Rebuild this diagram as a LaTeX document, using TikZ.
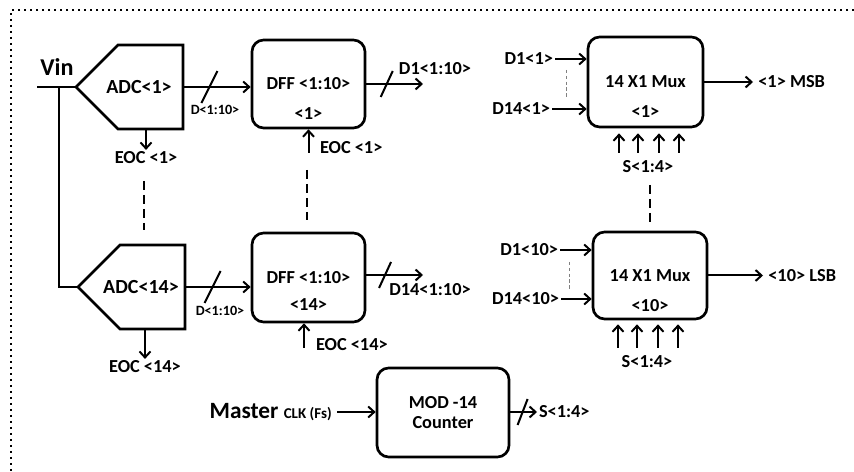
\documentclass[tikz,border=0pt]{standalone}
\usepackage{fontspec}
\setmainfont{Carlito}
\usetikzlibrary{positioning,arrows.meta}

\begin{document}
\begin{tikzpicture}[
        x=0.6pt, y=-0.6pt, >={Straight Barb[length=3.6pt,width=6.6pt]},
        every node/.style={font=\bfseries\fontsize{11}{12.5}\selectfont},
        adc/.style={inner sep=0pt, font=\bfseries\fontsize{12}{14}\selectfont},
        adcline/.style={draw, line width=1.6pt},
        block/.style={draw, line width=1.6pt, rounded corners=7pt, minimum width=67.8pt, minimum height=52.8pt, inner sep=0pt},
        lbl/.style={inner sep=1pt},
        smalllbl/.style={inner sep=1pt, font=\bfseries\fontsize{8.5}{10}\selectfont},
        wire/.style={line width=1.6pt},
        sig/.style={->, line width=1.2pt},
        bus/.style={line width=1.2pt},
        skip/.style={line width=1.6pt, dash pattern=on 5.4pt off 3pt},
        thinskip/.style={gray, line width=0.5pt, dash pattern=on 2pt off 1.5pt},
        frame/.style={line width=1.5pt, dash pattern=on 1.5pt off 2.1pt}
    ]
    \useasboundingbox (0,0) rectangle (854,472);
    \draw[frame] (854,10) -- (11,10) -- (11,472);

    % --- Input and ADC stage ---
    \coordinate (vin) at (37,87);
    \coordinate (split) at (59,87);
    \node[font=\bfseries\fontsize{14.5}{17}\selectfont] (vinlbl) at (57,67) {Vin};
    \node[adc] (adc1) at (139,87) {ADC<1>};
    \node[adc] (adc14) at (141,287) {ADC<14>};
    \foreach \a in {adc1,adc14} {
        \draw[adcline] ([xshift=-63*0.6pt]\a.center) coordinate (\a in)
            -- ([shift={(-21,-42)}]\a.center) -- ([shift={(44,-42)}]\a.center)
            -- ([shift={(44,42)}]\a.center) -- ([shift={(-21,42)}]\a.center) -- cycle;
        \coordinate (\a out) at ([xshift=44*0.6pt]\a.center);
        \coordinate (\a bot) at ([yshift=-42*0.6pt]\a.center);
    }
    \draw[wire] (vin) -- (adc1in);
    \draw[wire] (split) |- (adc14in);

    \node[lbl] (eoca1) at (146,158) {EOC <1>};
    \node[lbl] (eoca14) at (145,367) {EOC <14>};
    \draw[sig] (eoca1.north |- adc1bot) -- (eoca1.north);
    \draw[sig] (eoca14.north |- adc14bot) -- (eoca14.north);
    \draw[skip] (144,181) -- (144,230);

    % --- DFF stage ---
    \node[block] (dff1) at (308.5,84) {DFF <1:10>};
    \node[lbl] (dff1n) at (308.5,114) {<1>};
    \node[block, minimum height=53.4pt] (dff14) at (308.5,277.5) {DFF <1:10>};
    \node[lbl] (dff14n) at (308.5,305) {<14>};

    \draw[sig] (adc1out) -- coordinate[pos=0.39] (b1) (adc1out -| dff1.west);
    \draw[bus] ([shift={(-8,16)}]b1) -- ([shift={(8,-16)}]b1);
    \node[smalllbl] (d1lbl) at (215,110) {D<1:10>};
    \draw[sig] (adc14out) -- coordinate[pos=0.42] (b14) (adc14out -| dff14.west);
    \draw[bus] ([shift={(-8,16)}]b14) -- ([shift={(8,-16)}]b14);
    \node[smalllbl] (d14lbl) at (220,311) {D<1:10>};

    \coordinate (e1) at (308.5,153);
    \coordinate (e14) at (304,348);
    \draw[sig] (e1) -- (dff1.south);
    \draw[sig] (e14) -- (e14 |- dff14.south);
    \node[lbl, anchor=west] (eocd1) at (318,148) {EOC <1>};
    \node[lbl, anchor=west] (eocd14) at (314,345) {EOC <14>};
    \draw[skip] (307,170) -- (307,220);

    \coordinate (q1) at (423,84);
    \coordinate (q14) at (423,275);
    \draw[sig] (dff1.east) -- coordinate[pos=0.36] (c1) (q1);
    \draw[bus] ([shift={(-6,13)}]c1) -- ([shift={(6,-13)}]c1);
    \draw[sig] (dff14.east |- q14) -- coordinate[pos=0.33] (c14) (q14);
    \draw[bus] ([shift={(-6,13)}]c14) -- ([shift={(6,-13)}]c14);
    \node[lbl] (q1lbl) at (435,69) {D1<1:10>};
    \node[lbl] (q14lbl) at (430,290) {D14<1:10>};

    % --- Mux stage ---
    \node[block, minimum width=69pt, minimum height=54pt] (mux1) at (645.5,82) {14 X1 Mux};
    \node[lbl] (mux1n) at (645.5,112) {<1>};
    \node[block, minimum width=68.4pt, minimum height=52.2pt] (mux10) at (650,275.5) {14 X1 Mux};
    \node[lbl] (mux10n) at (650,306) {<10>};

    \node[lbl, anchor=east] (m1a) at (555,59) {D1<1>};
    \node[lbl, anchor=east] (m1b) at (552,109) {D14<1>};
    \draw[sig] (m1a.east) -- (m1a.east -| mux1.west);
    \draw[sig] (m1b.east) -- (m1b.east -| mux1.west);
    \draw[thinskip] (566,70) -- (566,98);
    \node[lbl, anchor=east] (m10a) at (560,250) {D1<10>};
    \node[lbl, anchor=east] (m10b) at (561,299) {D14<10>};
    \draw[sig] (m10a.east) -- (m10a.east -| mux10.west);
    \draw[sig] (m10b.east) -- (m10b.east -| mux10.west);
    \draw[thinskip] (569,262) -- (569,290);

    \coordinate (m1out) at (753,82);
    \coordinate (m10out) at (763,275.5);
    \draw[sig] (mux1.east) -- (m1out);
    \draw[sig] (mux10.east) -- (m10out);
    \node[lbl, right=2pt of m1out] (msb) {<1> MSB};
    \node[lbl, right=2pt of m10out] (lsb) {<10> LSB};

    \node[lbl] (sel1) at (648,167) {S<1:4>};
    \node[lbl] (sel10) at (647,362) {S<1:4>};
    \foreach \dx in {-29,-10,11,31} {
        \draw[sig] ([shift={(\dx,-6)}]sel1.north) -- ([shift={(\dx,5)}]sel1.north |- mux1.south);
        \draw[sig] ([shift={(\dx,-6)}]sel10.north) -- ([shift={(\dx,4)}]sel10.north |- mux10.south);
    }
    \draw[skip] (650,185) -- (650,223);

    % --- Counter ---
    \node[block, minimum width=79.2pt, minimum height=53.4pt, align=center] (cnt) at (443,412.5) {MOD -14\\Counter};
    \node[inner sep=3pt, anchor=east, font=\bfseries\fontsize{14}{16}\selectfont] (clk) at (337,412) {Master {\fontsize{9}{11}\selectfont CLK (Fs)}};
    \draw[sig] (clk.east) -- (clk.east -| cnt.west);
    \coordinate (cout) at (537,412);
    \draw[sig] (cnt.east |- cout) -- coordinate[pos=0.46] (c3) (cout);
    \draw[bus] ([shift={(-5,13)}]c3) -- ([shift={(5,-13)}]c3);
    \node[lbl, right=0pt of cout] (cnts) {S<1:4>};

\end{tikzpicture}
\end{document}
